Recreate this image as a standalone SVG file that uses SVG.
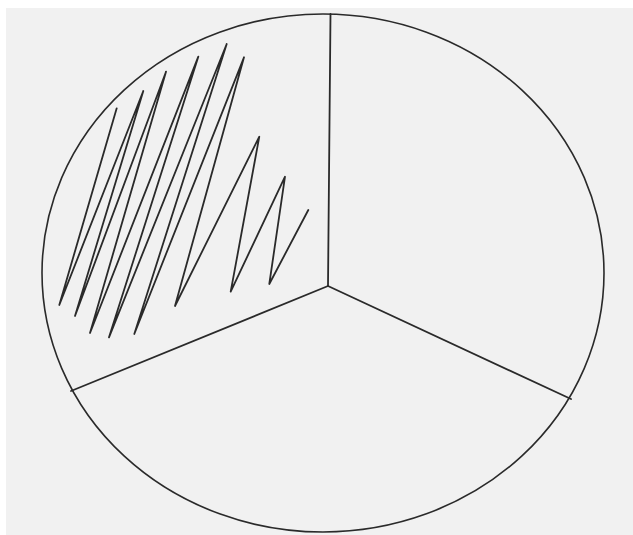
<svg xmlns="http://www.w3.org/2000/svg" width="633" height="535" viewBox="0 0 633 535">
<style>
.ink{fill:none;stroke:#2a2a2a;stroke-linecap:round;stroke-linejoin:round}
.rim{stroke-width:1.6}
.div{stroke-width:1.8}
.scr{stroke-width:1.8}
</style>
<rect x="0" y="0" width="633" height="535" fill="#ffffff"/>
<rect x="6" y="8" width="627" height="527" fill="#f1f1f1"/>
<g id="circle">
<ellipse class="ink rim" cx="323" cy="273" rx="281" ry="259"/>
</g>
<g id="dividers">
<line class="ink div" x1="330.5" y1="14" x2="328" y2="286"/>
<line class="ink div" x1="328" y1="286" x2="71" y2="391"/>
<line class="ink div" x1="328" y1="286" x2="571" y2="399"/>
</g>
<g id="scribble">
<polyline class="ink scr" points="116.7,108.3 59.3,305 143.3,91 75,316 166,71.7 90,333 198.3,56.7 109,337.3 226.7,44 134.3,334 244,57.3 175,306 259.3,136.7 230.7,291.7 285,176.7 269.3,284 308.3,210"/>
</g>
</svg>
